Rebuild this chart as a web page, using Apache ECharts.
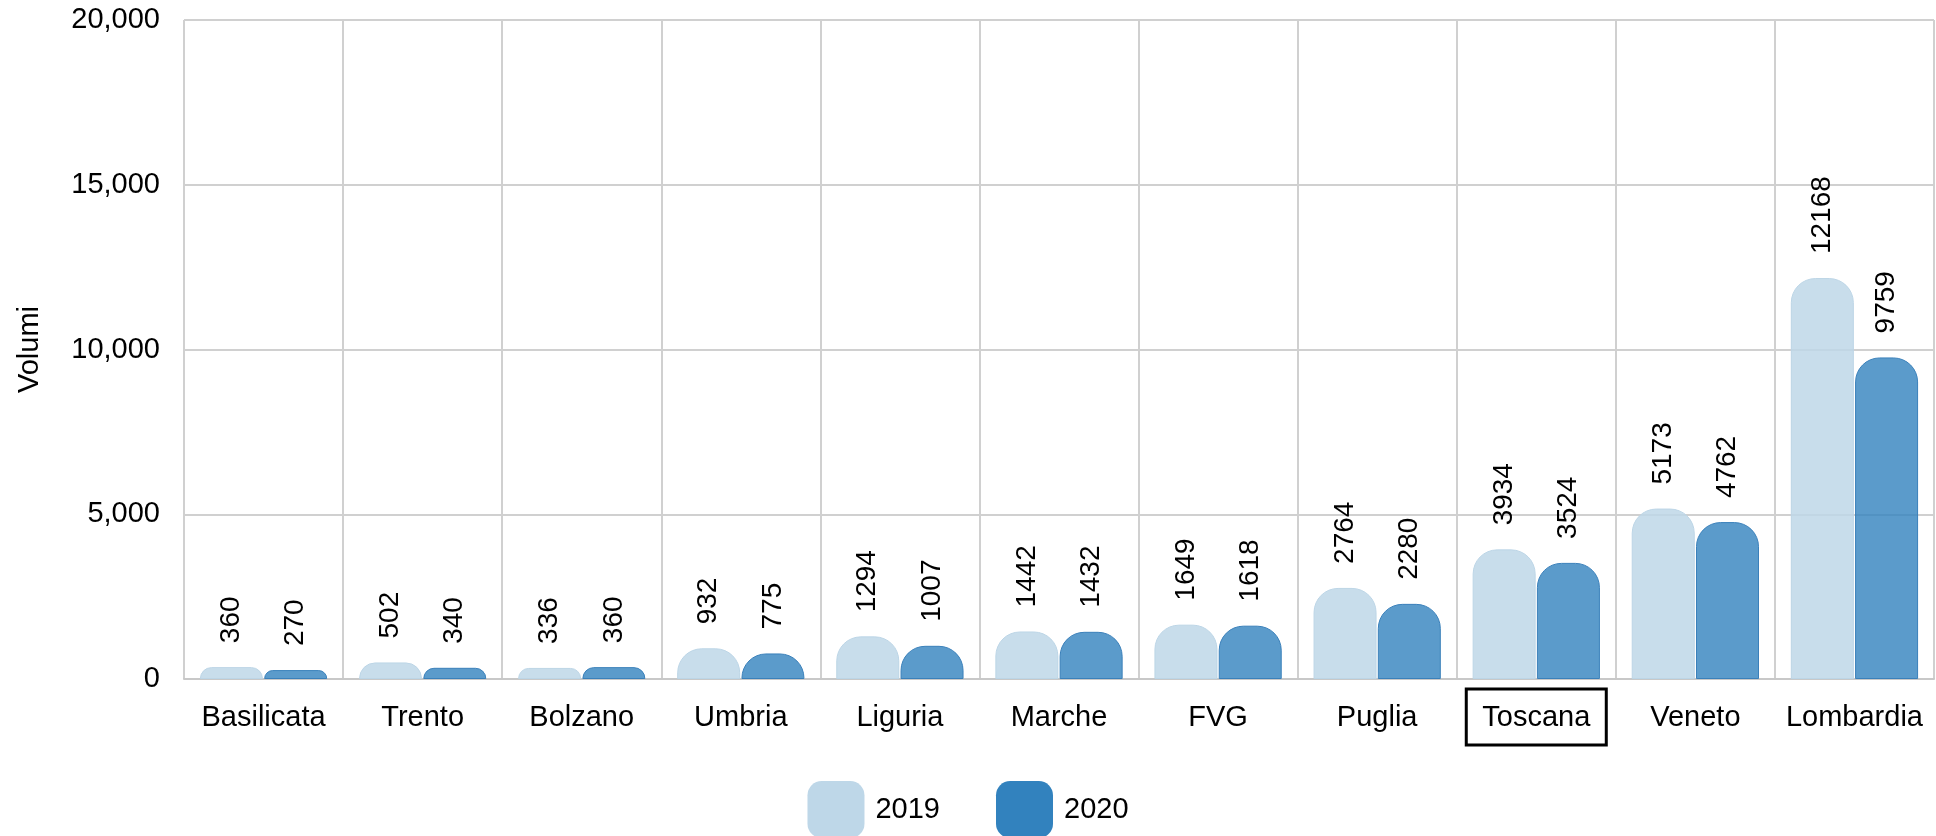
<!DOCTYPE html>
<html>
<head>
<meta charset="utf-8">
<script src="https://cdn.jsdelivr.net/npm/echarts@6/dist/echarts.min.js"></script>
<style>
html, body { margin: 0; padding: 0; background: #fff; }
#main { width: 1936px; height: 836px; }
</style>
</head>
<body>
<div id="main"></div>
<script>
var regioni = ['Basilicata', 'Trento', 'Bolzano', 'Umbria', 'Liguria', 'Marche', 'FVG', 'Puglia', 'Toscana', 'Veneto', 'Lombardia'];
var volumi2019 = [360, 502, 336, 932, 1294, 1442, 1649, 2764, 3934, 5173, 12168];
var volumi2020 = [270, 340, 360, 775, 1007, 1432, 1618, 2280, 3524, 4762, 9759];
var anni = ['2019', '2020'];

var font = 'Liberation Sans, Arial, sans-serif';

// the selected region gets a black frame round its label
var categorie = regioni.map(function (r) {
    if (r === 'Toscana') {
        return { value: r, textStyle: { borderColor: '#000', borderWidth: 3 } };
    }
    return r;
});

var labelBarre = {
    show: true,
    position: 'top',
    rotate: 90,
    align: 'left',
    verticalAlign: 'middle',
    distance: 24,
    fontSize: 28,
    fontFamily: font,
    color: '#000'
};

option = {
    animation: false,
    grid: {
        left: 184,
        right: 2,
        top: 20,
        bottom: 157
    },
    legend: {
        left: 'center',
        top: 776,
        icon: 'roundRect',
        itemWidth: 57,
        itemHeight: 57,
        itemGap: 56,
        textStyle: { fontSize: 29, fontFamily: font, color: '#000', padding: [0, 0, 0, 6] },
        data: [
            { name: anni[0], itemStyle: { color: '#bed7e8', opacity: 1, borderWidth: 0 } },
            { name: anni[1], itemStyle: { color: '#3282be', opacity: 1, borderWidth: 0 } }
        ]
    },
    xAxis: {
        type: 'category',
        data: categorie,
        axisTick: { show: false },
        axisLine: { lineStyle: { color: '#c8c8c8', width: 2 } },
        splitLine: { show: true, interval: 0, lineStyle: { color: '#d0d0d0', width: 2 } },
        axisLabel: {
            interval: 0,
            margin: 10,
            padding: [14, 16, 13, 16],
            fontSize: 29,
            fontFamily: font,
            color: '#000'
        }
    },
    yAxis: {
        type: 'value',
        min: 0,
        max: 20000,
        interval: 5000,
        name: 'Volumi',
        nameLocation: 'middle',
        nameGap: 140,
        nameTextStyle: { fontSize: 29, fontFamily: font, color: '#000' },
        axisLine: { show: false },
        axisTick: { show: false },
        splitLine: { lineStyle: { color: '#d0d0d0', width: 2 } },
        axisLabel: {
            margin: 24,
            fontSize: 29,
            fontFamily: font,
            color: '#000',
            formatter: function (v) { return v.toLocaleString('en-US'); }
        }
    },
    series: [{
        name: anni[0],
        type: 'bar',
        data: volumi2019,
        barWidth: 63,
        barGap: '2%',
        itemStyle: {
            color: 'rgba(190,215,232,0.85)',
            borderColor: '#bcd5e6',
            borderWidth: 1,
            borderRadius: [24, 24, 0, 0]
        },
        label: labelBarre
    }, {
        name: anni[1],
        type: 'bar',
        data: volumi2020,
        barWidth: 63,
        itemStyle: {
            color: 'rgba(50,130,190,0.8)',
            borderColor: '#3a80ba',
            borderWidth: 1,
            borderRadius: [24, 24, 0, 0]
        },
        label: labelBarre
    }]
};
var myChart = echarts.init(document.getElementById('main'));
myChart.setOption(option);
</script>
</body>
</html>
